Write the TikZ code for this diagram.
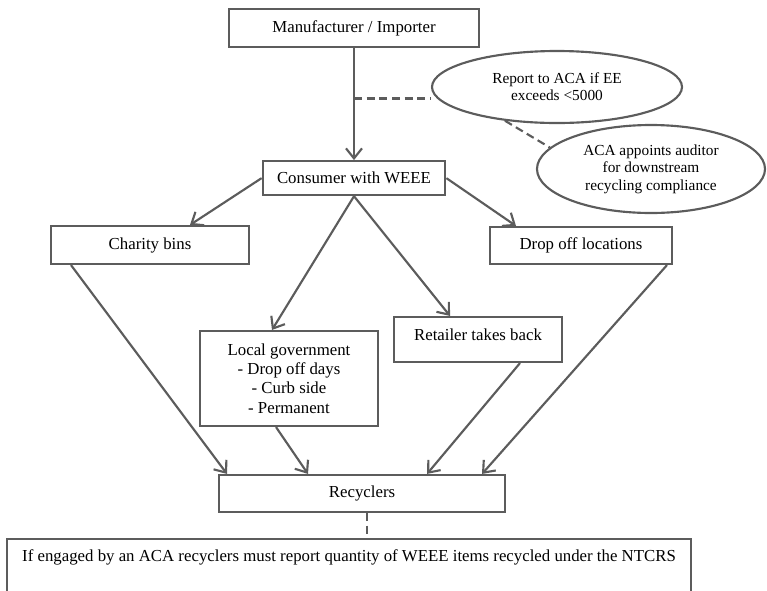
\documentclass[tikz,border=0pt]{standalone}
\usepackage{fontspec}
\setmainfont{Liberation Serif}
\usepackage{tikz}
\usetikzlibrary{shapes.geometric, arrows.meta, positioning, calc}
\definecolor{linegray}{RGB}{92,92,92}

\begin{document}
\begin{tikzpicture}[
        x=0.75pt, y=-0.75pt,
        box/.style={rectangle, draw=linegray, line width=1.6pt, fill=white, align=center, inner sep=0pt, font=\fontsize{12.6}{14.5}\selectfont},
        note/.style={ellipse, draw=linegray, line width=1.6pt, align=center, inner sep=0pt, font=\fontsize{11.5}{13}\selectfont},
        arrow/.style={-{Straight Barb[length=7.5pt, width=12pt, line width=1.6pt]}, line width=1.6pt, draw=linegray},
        link/.style={line width=1.6pt, draw=linegray, dash pattern=on 6pt off 3.5pt}
    ]
    \useasboundingbox (0,0) rectangle (767,590);

    \node (manufacturer_node) [box, minimum width=187.5pt, minimum height=28.5pt] at (354,28) {Manufacturer / Importer};
    \node (consumer_node) [box, minimum width=137pt, minimum height=25.5pt, below=84pt of manufacturer_node] {Consumer with WEEE};

    \node (report_node) [note, minimum width=187.5pt, minimum height=54pt] at (557,87) {Report to ACA if EE\\ exceeds <5000};
    \node (auditor_node) [note, minimum width=171pt, minimum height=66pt] at (651,169) {ACA appoints auditor\\ for downstream\\ recycling compliance};

    \node (charity_node) [box, minimum width=148.5pt, minimum height=28.5pt] at (150,245) {Charity bins};
    \node (dropoff_node) [box, minimum width=136.5pt, minimum height=27.75pt] at (581,245.5) {Drop off locations};
    \node (localgov_node) [box, minimum width=133.5pt, minimum height=71.25pt] at (289,378.5) {Local government\\ - Drop off days\\ - Curb side\\ - Permanent};
    \node (retailer_node) [box, minimum width=126pt, minimum height=33.75pt, text height=8.5pt, text depth=7pt] at (478,339.5) {Retailer takes back};

    \node (recyclers_node) [box, minimum width=214.5pt, minimum height=27.75pt] at (362,493.5) {Recyclers};
    \node (ntcrs_node) [box, minimum width=513pt, anchor=north, text height=16.5pt, text depth=40pt] at (349,538) {If engaged by an ACA recyclers must report quantity of WEEE items recycled under the NTCRS};

    % top of the chain
    \draw [arrow] (manufacturer_node) -- (consumer_node);
    \coordinate (branch_point) at ($(manufacturer_node.south)!0.45!(consumer_node.north)$);
    \draw [link] (branch_point) -- (branch_point -| report_node.west);
    \draw [link] (report_node.213) -- (auditor_node.168);

    % consumer to collection
    \draw [arrow] (consumer_node.west) -- ([xshift=30pt]charity_node.north);
    \draw [arrow] (consumer_node.east) -- ([xshift=-48.75pt]dropoff_node.north);
    \draw [arrow] (consumer_node.south) -- ([xshift=-12.75pt]localgov_node.north);
    \draw [arrow] (consumer_node.south) -- ([xshift=-21pt]retailer_node.north);

    % collection to recyclers
    \draw [arrow] ([xshift=-59.25pt]charity_node.south) -- ([xshift=-101.25pt]recyclers_node.north);
    \draw [arrow] ([xshift=-9.75pt]localgov_node.south) -- ([xshift=-40.5pt]recyclers_node.north);
    \draw [arrow] ([xshift=31.5pt]retailer_node.south) -- ([xshift=48.75pt]recyclers_node.north);
    \draw [arrow] ([xshift=64.5pt]dropoff_node.south) -- ([xshift=90pt]recyclers_node.north);
    \draw [link] ([xshift=3.75pt]recyclers_node.south) -- ([xshift=3.75pt]recyclers_node.south |- ntcrs_node.north);

\end{tikzpicture}
\end{document}
